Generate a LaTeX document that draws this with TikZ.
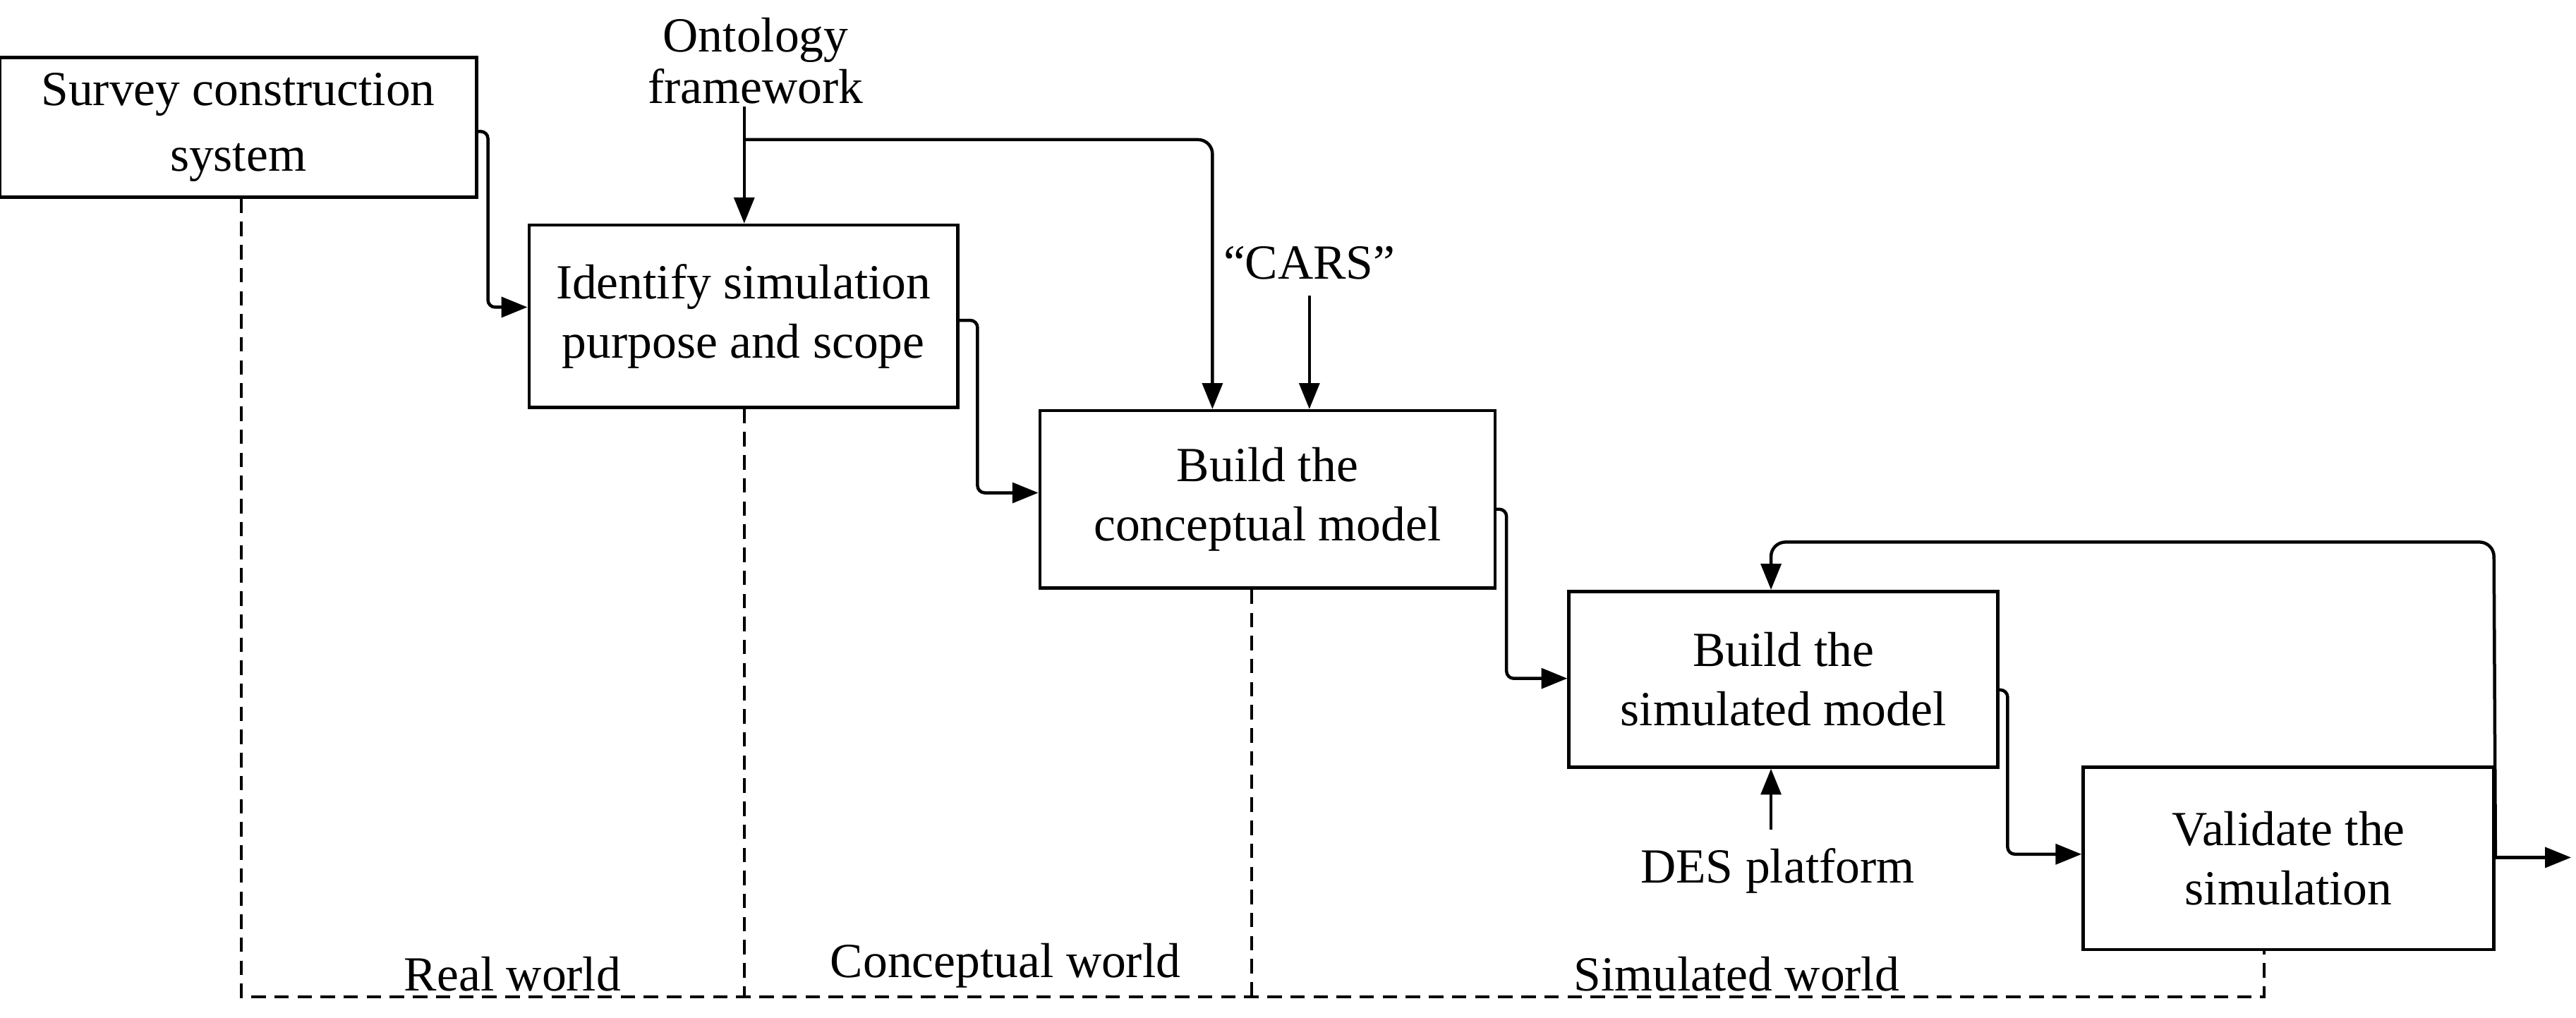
\documentclass[tikz,border=0pt]{standalone}
\usepackage{fontspec}
\setmainfont{Liberation Serif}
\usetikzlibrary{arrows.meta}
\begin{document}
\begin{tikzpicture}[x=0.02cm,y=-0.02cm,
 box/.style={draw,line width=1.1pt,inner sep=0pt,align=center,font=\fontsize{17}{20.5}\selectfont},
 lab/.style={align=center,font=\fontsize{17}{18}\selectfont,inner sep=0pt},
 con/.style={line width=1.1pt,-{Triangle[length=9pt,width=7pt]},rounded corners=2.5pt},
 dsh/.style={line width=1pt,dash pattern=on 5pt off 3pt}]
\useasboundingbox (0,0) rectangle (1568,619.3);
\node[box,minimum width=290*0.02cm,minimum height=85*0.02cm] (b1) at (145,77.5) {Survey construction\\[2pt]system};
\node[box,minimum width=261*0.02cm,minimum height=111*0.02cm] (b2) at (452.5,192.5) {Identify simulation\\purpose and scope};
\node[box,minimum width=277*0.02cm,minimum height=108*0.02cm] (b3) at (771.5,304) {Build the\\conceptual model};
\node[box,minimum width=261*0.02cm,minimum height=107*0.02cm] (b4) at (1085.5,413.5) {Build the\\simulated model};
\node[box,minimum width=250*0.02cm,minimum height=111*0.02cm] (b5) at (1393,522.5) {Validate the\\simulation};
\node[lab] (onto) at (460,37) {Ontology\\framework};
\node[lab] (cars) at (797,160) {“CARS”};
\node[lab] (des) at (1082,530) {DES platform};
\node[lab] (rw) at (312,593) {Real world};
\node[lab] (cw) at (612,588) {Conceptual world};
\node[lab] (sw) at (1057,593) {Simulated world};
\coordinate (oj) at (453,85);
\coordinate (out) at (1565,522);
\draw[con] (b1.east|-0,80) -- (297,80) -- (297,187) -- (b2.west|-0,187);
\draw[con] (b2.east|-0,195) -- (595,195) -- (595,300) -- (b3.west|-0,300);
\draw[con] (b3.east|-0,310) -- (917,310) -- (917,413) -- (b4.west|-0,413);
\draw[con] (b4.east|-0,420) -- (1222,420) -- (1222,520) -- (b5.west|-0,520);
\draw[con] (b5.east|-0,522) -- (out);
\draw[con,rounded corners=5pt] (b5.east|-0,522) -- (1518,330) -- (1078,330) -- (b4.north-|1078,0);
\draw[con] (453,65) -- (b2.north-|453,0);
\draw[con,rounded corners=5pt] (oj) -- (738,85) -- (b3.north-|738,0);
\draw[con] (797,180) -- (b3.north-|797,0);
\draw[con] (1078,505) -- (b4.south-|1078,0);
\draw[dsh] (b1.south-|147,0) -- (147,607) -- (1378,607) -- (b5.south-|1378,0);
\draw[dsh] (b2.south-|453,0) -- (453,607);
\draw[dsh] (b3.south-|762,0) -- (762,607);
\end{tikzpicture}
\end{document}
